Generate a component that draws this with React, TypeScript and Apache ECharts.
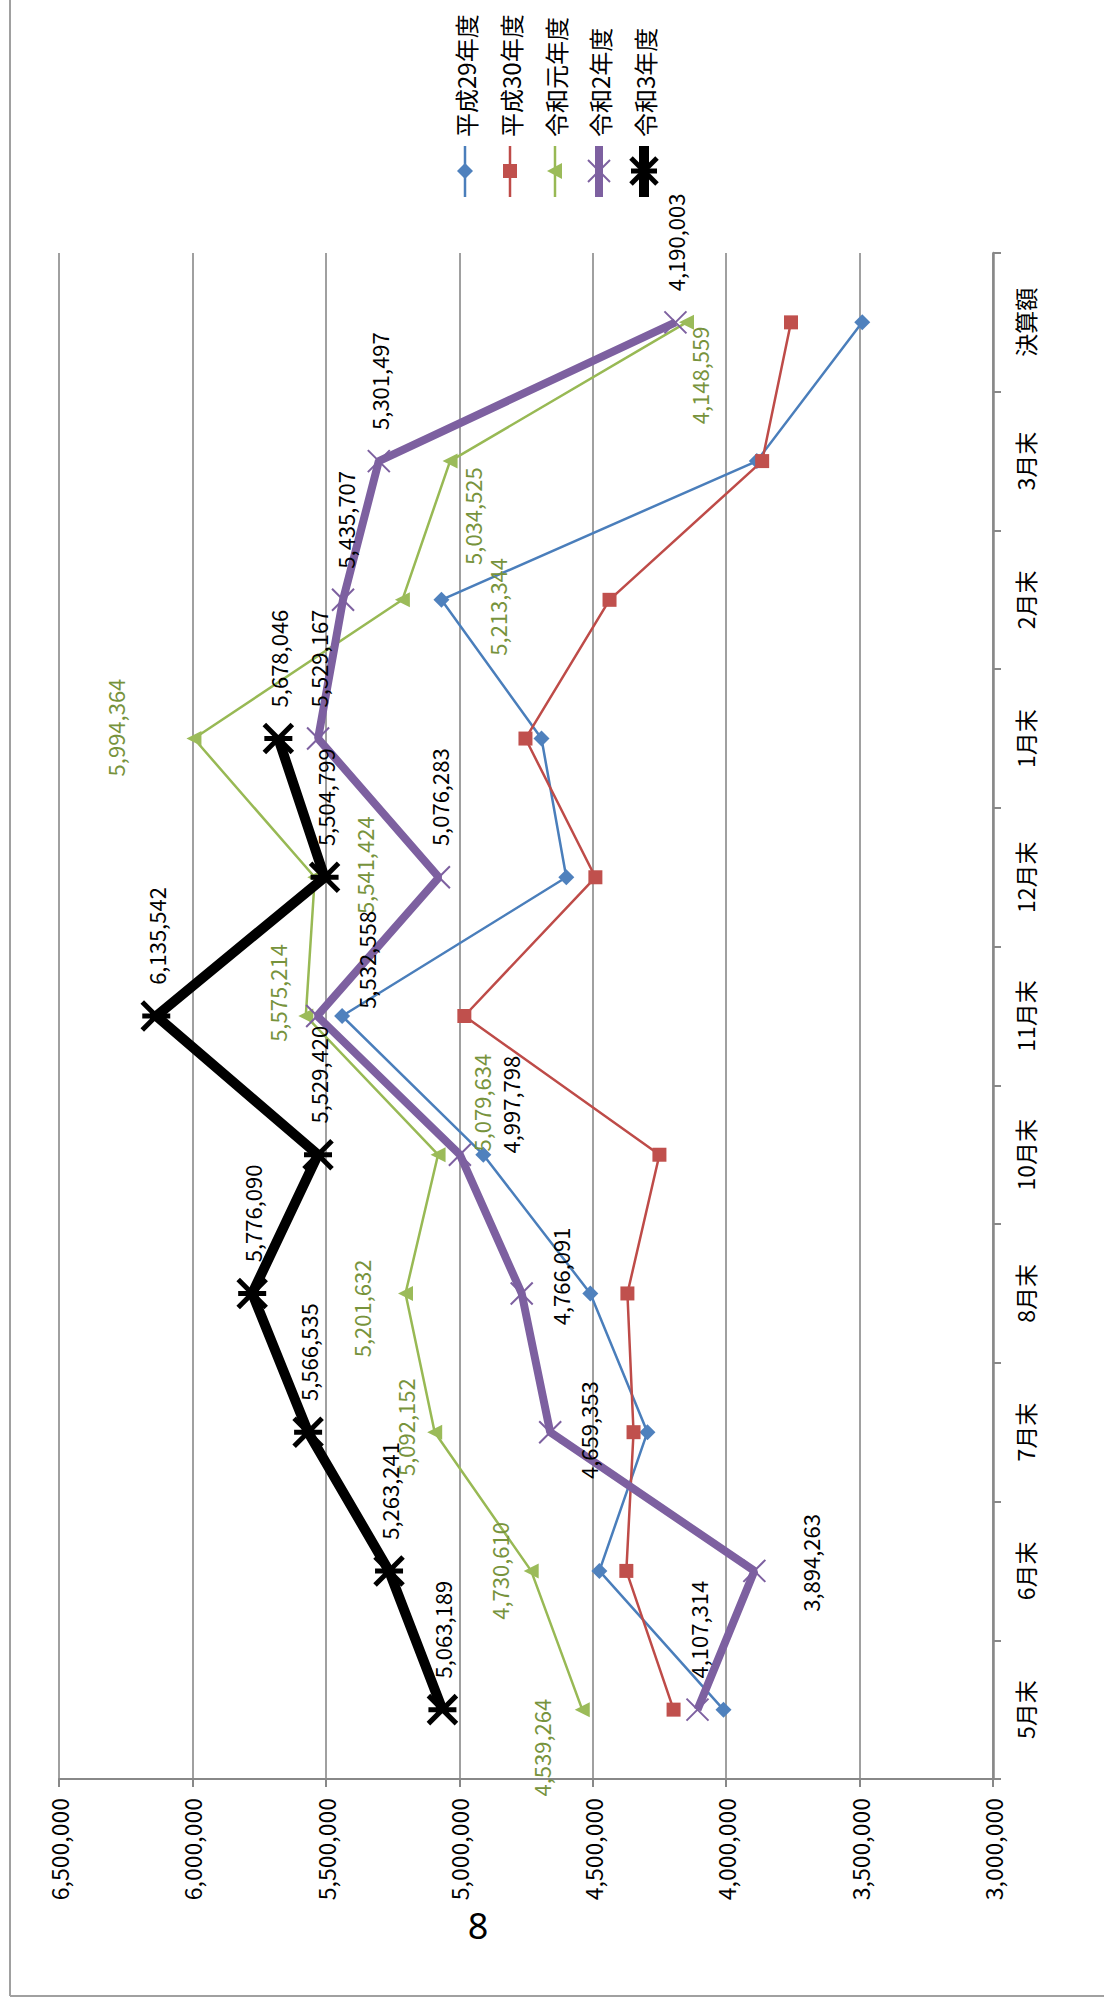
import React, { useEffect, useRef } from 'react';
import * as echarts from 'echarts';

// ---------- data ----------
const categories = ['5月末', '6月末', '7月末', '8月末', '10月末', '11月末', '12月末', '1月末', '2月末', '3月末', '決算額'];
const seriesNames = ['平成29年度', '平成30年度', '令和元年度', '令和2年度', '令和3年度'];

const h29 = [4010000, 4475000, 4295000, 4509000, 4910000, 5439000, 4599000, 4692000, 5067000, 3885000, 3490000];
const h30 = [4197000, 4374000, 4347000, 4370000, 4250000, 4981000, 4490000, 4752000, 4437000, 3865000, 3757000];
const r1 = [4539264, 4730610, 5092152, 5201632, 5079634, 5575214, 5541424, 5994364, 5213344, 5034525, 4148559];
const r2 = [4107314, 3894263, 4659353, 4766091, 4997798, 5532558, 5076283, 5529167, 5435707, 5301497, 4190003];
const r3 = [5063189, 5263241, 5566535, 5776090, 5529420, 6135542, 5504799, 5678046, null, null, null];

const axisMin = 3000000;
const axisMax = 6500000;
const axisStep = 500000;

// ---------- styling ----------
const FONT = "'Noto Sans CJK JP', 'Noto Sans', sans-serif";
const COLORS = ['#4A7EBB', '#BE4B48', '#98B954', '#7D60A0', '#000000'];
const GREEN_TEXT = '#77933C';
const GRID_COLOR = '#A0A0A0';
const AXIS_COLOR = '#888888';

// label centre shift from its point, in screen px [dx, dy]
const r1Shift = [[-41, 38], [-32, 0], [-30, -5], [-44, 15], [43, -52], [-29, -23], [49, -12], [-79, -11], [95, 7], [22, 55], [13, 53]];
const r2Shift = [[0, -80], [56, -8], [38, -2], [38, -17], [50, -50], [49, -56], [0, -80], [0, -80], [2, -80], [0, -80], [0, -80]];
const r3Shift = [[0, -80], [0, -80], [0, -80], [0, -80], [0, -80], [0, -80], [0, -80], [0, -80], [0, -80], [0, -80], [0, -80]];

const fmt = (v: number) => Number(v).toLocaleString('en-US');

function makeData(vals: (number | null)[], shift?: number[][]) {
  const out: any[] = [];
  vals.forEach((v, i) => {
    if (v == null) return;
    const item: any = { value: [v, i] };
    if (shift) {
      // label rotated 90deg CCW: local offset (ox, oy) maps to screen (oy, -ox)
      item.label = { offset: [-shift[i][1], shift[i][0]] };
    }
    out.push(item);
  });
  return out;
}

const X_PATH = 'path://M0,0L10,10M10,0L0,10';
const STAR_PATH = 'path://M0,0L10,10M10,0L0,10M0,5L10,5';

function buildLegend() {
  const xs = [465, 510, 555, 599, 644];
  const my = 171;
  const els: any[] = [];
  const lineWidths = [2.5, 2.5, 2.5, 8, 10];
  xs.forEach((x, i) => {
    const c = COLORS[i];
    els.push({ type: 'line', shape: { x1: x, y1: 146, x2: x, y2: 197 }, style: { stroke: c, lineWidth: lineWidths[i] } });
    if (i === 0) {
      els.push({ type: 'polygon', shape: { points: [[x, my - 8], [x + 8, my], [x, my + 8], [x - 8, my]] }, style: { fill: '#4F81BD' } });
    } else if (i === 1) {
      els.push({ type: 'rect', shape: { x: x - 7, y: my - 7, width: 14, height: 14 }, style: { fill: '#C0504D' } });
    } else if (i === 2) {
      els.push({ type: 'polygon', shape: { points: [[x - 8, my], [x + 7, my - 8], [x + 7, my + 8]] }, style: { fill: '#9BBB59' } });
    } else if (i === 3) {
      els.push({ type: 'line', shape: { x1: x - 11, y1: my - 11, x2: x + 11, y2: my + 11 }, style: { stroke: c, lineWidth: 2 } });
      els.push({ type: 'line', shape: { x1: x + 11, y1: my - 11, x2: x - 11, y2: my + 11 }, style: { stroke: c, lineWidth: 2 } });
    } else {
      els.push({ type: 'line', shape: { x1: x - 13, y1: my - 13, x2: x + 13, y2: my + 13 }, style: { stroke: c, lineWidth: 5 } });
      els.push({ type: 'line', shape: { x1: x + 13, y1: my - 13, x2: x - 13, y2: my + 13 }, style: { stroke: c, lineWidth: 5 } });
      els.push({ type: 'line', shape: { x1: x - 13, y1: my, x2: x + 13, y2: my }, style: { stroke: c, lineWidth: 5 } });
    }
    els.push({
      type: 'text', x, y: 137, rotation: Math.PI / 2,
      style: { text: seriesNames[i], fill: '#000', font: `24px ${FONT}`, textAlign: 'left', textVerticalAlign: 'middle', verticalAlign: 'middle' },
    });
  });
  return els;
}

function buildOption(): any {
  const labelBase = { show: true, rotate: 90, position: 'inside', align: 'center', verticalAlign: 'middle', fontSize: 22, fontFamily: FONT, formatter: (p: any) => fmt(p.value[0]) };
  return {
    animation: false,
    backgroundColor: '#ffffff',
    textStyle: { fontFamily: FONT },
    grid: { left: 59, right: 111, top: 253, bottom: 223, containLabel: false },
    xAxis: {
      type: 'value', min: axisMin, max: axisMax, interval: axisStep, inverse: true, position: 'bottom',
      axisLine: { show: true, onZero: false, lineStyle: { color: AXIS_COLOR, width: 2 } },
      axisTick: { show: true, length: 8, lineStyle: { color: AXIS_COLOR, width: 2 } },
      axisLabel: { rotate: 90, margin: 19, fontSize: 23, color: '#000', fontFamily: FONT, formatter: (v: number) => fmt(v) },
      splitLine: { show: true, lineStyle: { color: GRID_COLOR, width: 2 } },
    },
    yAxis: {
      type: 'category', position: 'right', data: categories, boundaryGap: true,
      axisLine: { show: true, onZero: false, lineStyle: { color: AXIS_COLOR, width: 2.5 } },
      axisTick: { show: true, length: 8, lineStyle: { color: AXIS_COLOR, width: 2 } },
      axisLabel: { rotate: 90, margin: 20, fontSize: 23, color: '#000', fontFamily: FONT },
      splitLine: { show: false },
    },
    series: [
      {
        name: seriesNames[0], type: 'line', data: makeData(h29), symbol: 'diamond', symbolSize: 16,
        lineStyle: { color: COLORS[0], width: 2.5 }, itemStyle: { color: '#4F81BD', borderWidth: 0 }, z: 2,
      },
      {
        name: seriesNames[1], type: 'line', data: makeData(h30), symbol: 'rect', symbolSize: 14,
        lineStyle: { color: COLORS[1], width: 2.5 }, itemStyle: { color: '#C0504D', borderWidth: 0 }, z: 3,
      },
      {
        name: seriesNames[2], type: 'line', data: makeData(r1, r1Shift), symbol: 'triangle', symbolSize: 15, symbolRotate: 90,
        lineStyle: { color: COLORS[2], width: 2.5 }, itemStyle: { color: '#9BBB59', borderWidth: 0 }, z: 4,
        label: { ...labelBase, color: GREEN_TEXT },
      },
      {
        name: seriesNames[3], type: 'line', data: makeData(r2, r2Shift), symbol: X_PATH, symbolSize: 22,
        lineStyle: { color: COLORS[3], width: 8 }, itemStyle: { color: 'none', borderColor: COLORS[3], borderWidth: 2 }, z: 5,
        label: { ...labelBase, color: '#000' },
      },
      {
        name: seriesNames[4], type: 'line', data: makeData(r3, r3Shift), symbol: STAR_PATH, symbolSize: 28,
        lineStyle: { color: COLORS[4], width: 10 }, itemStyle: { color: 'none', borderColor: '#000', borderWidth: 5 }, z: 6,
        label: { ...labelBase, color: '#000' },
      },
    ],
    graphic: [
      ...buildLegend(),
      { type: 'line', shape: { x1: 10, y1: 0, x2: 10, y2: 1996 }, style: { stroke: GRID_COLOR, lineWidth: 2 } },
      { type: 'line', shape: { x1: 10, y1: 1996, x2: 1104, y2: 1996 }, style: { stroke: GRID_COLOR, lineWidth: 2 } },
      { type: 'text', x: 478, y: 1925, style: { text: '8', fill: '#000', font: `36px 'Noto Sans', sans-serif`, textAlign: 'center', textVerticalAlign: 'middle', verticalAlign: 'middle' } },
    ],
  };
}

export default function App() {
  const ref = useRef<HTMLDivElement>(null);
  useEffect(() => {
    if (!ref.current) return;
    const chart = echarts.init(ref.current, null, { renderer: 'svg' });
    chart.setOption(buildOption());
    return () => chart.dispose();
  }, []);
  return <div ref={ref} style={{ position: 'absolute', left: 0, top: 0, width: 1104, height: 2002, background: '#fff' }} />;
}
